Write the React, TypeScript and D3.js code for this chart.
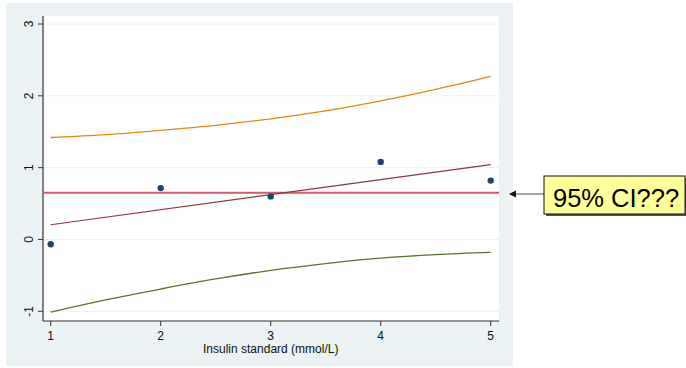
import React from "react";
import * as d3 from "d3";

const pointX = [1, 2, 3, 4, 5];
const pointY = [-0.067, 0.715, 0.6, 1.08, 0.82];

const fitX = [1, 5];
const fitY = [0.205, 1.042];

const meanValue = 0.65;

const ciX = [1, 1.5, 2, 2.5, 3, 3.5, 4, 4.5, 5];
const ciUpper = [1.42, 1.46, 1.52, 1.59, 1.68, 1.79, 1.93, 2.09, 2.27];
const ciLower = [-1.01, -0.84, -0.69, -0.55, -0.43, -0.335, -0.26, -0.21, -0.18];

const xTicks = [1, 2, 3, 4, 5];
const yTicks = [-1, 0, 1, 2, 3];

const xTitle = "Insulin standard (mmol/L)";
const noteText = "95% CI???";

export default function App() {
  const x = d3.scaleLinear().domain([1, 5]).range([50.7, 490.7]);
  const y = d3.scaleLinear().domain([-1, 3]).range([311.3, 24]);

  const plotL = 43, plotR = 499, plotT = 16, plotB = 321;

  const lineGen = d3
    .line<[number, number]>()
    .x((d) => x(d[0]))
    .y((d) => y(d[1]))
    .curve(d3.curveCatmullRom.alpha(0.5));

  const upper = lineGen(ciX.map((v, i) => [v, ciUpper[i]] as [number, number])) || "";
  const lower = lineGen(ciX.map((v, i) => [v, ciLower[i]] as [number, number])) || "";
  const fit = lineGen(fitX.map((v, i) => [v, fitY[i]] as [number, number])) || "";

  const font = "'Liberation Sans', Arial, sans-serif";

  return (
    <svg
      width={686}
      height={368}
      style={{ position: "absolute", left: 0, top: 0, background: "#fff" }}
      fontFamily={font}
    >
      <rect x={6} y={3} width={507} height={363} fill="#eaf2f3" />
      <rect x={plotL} y={plotT} width={plotR - plotL} height={plotB - plotT} fill="#ffffff" />
      {yTicks.map((t) => (
        <line key={"g" + t} x1={plotL} x2={plotR} y1={y(t)} y2={y(t)} stroke="#eaf2f3" strokeWidth={1} />
      ))}
      {/* axes */}
      <line x1={plotL} x2={plotL} y1={plotT} y2={plotB} stroke="#333" strokeWidth={1.2} />
      <line x1={plotL} x2={plotR} y1={plotB} y2={plotB} stroke="#333" strokeWidth={1.2} />
      {yTicks.map((t) => (
        <g key={"y" + t}>
          <line x1={plotL - 5} x2={plotL} y1={y(t)} y2={y(t)} stroke="#333" strokeWidth={1} />
          <text
            transform={`translate(33,${y(t)}) rotate(-90)`}
            textAnchor="middle"
            fontSize={12}
            fill="#111"
          >
            {t}
          </text>
        </g>
      ))}
      {xTicks.map((t) => (
        <g key={"x" + t}>
          <line x1={x(t)} x2={x(t)} y1={plotB} y2={plotB + 5} stroke="#333" strokeWidth={1} />
          <text x={x(t)} y={339.5} textAnchor="middle" fontSize={12} fill="#111">
            {t}
          </text>
        </g>
      ))}
      <text x={x(3)} y={352.5} textAnchor="middle" fontSize={12} fill="#111">
        {xTitle}
      </text>

      {/* data */}
      <path d={upper} fill="none" stroke="#e8860a" strokeWidth={1.3} />
      <path d={lower} fill="none" stroke="#55752f" strokeWidth={1.3} />
      <line x1={plotL} x2={plotR} y1={y(meanValue)} y2={y(meanValue)} stroke="#d45a6e" strokeWidth={2} />
      <path d={fit} fill="none" stroke="#90353b" strokeWidth={1.2} />
      {pointX.map((v, i) => (
        <circle key={"p" + i} cx={x(v)} cy={y(pointY[i])} r={3.2} fill="#1a476f" />
      ))}

      {/* annotation */}
      <line x1={514} x2={544} y1={194} y2={194} stroke="#888" strokeWidth={1.5} />
      <path d="M509,194 L516,190.5 L516,197.5 Z" fill="#111" />
      <rect x={546} y={178} width={141} height={38} fill="#555" />
      <rect x={544} y={176} width={141} height={38} fill="#ffff99" stroke="#111" strokeWidth={1} />
      <text x={553} y={206.5} fontSize={25.5} fill="#000">
        {noteText}
      </text>
    </svg>
  );
}
